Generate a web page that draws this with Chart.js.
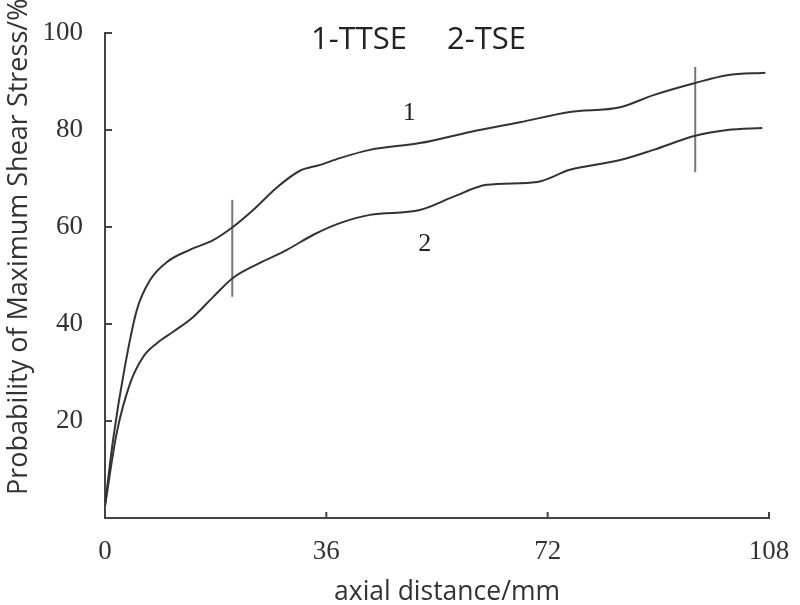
<!DOCTYPE html>
<html lang="en">
<head>
    <meta charset="UTF-8">
    <title>Probability of Maximum Shear Stress</title>
    <script src="https://cdn.jsdelivr.net/npm/chart.js"></script>
    <style>
        body {
            margin: 0;
            background-color: #fff;
        }
        canvas {
            display: block;
        }
    </style>
</head>
<body>
    <canvas id="shearChart" width="800" height="605"></canvas>
    <script>
        // data
        const distance1 = [0, 1.3, 3.2, 5.2, 7.3, 10.1, 13.8, 17.6, 20.8, 24.1, 28, 31.7, 35, 38.2, 43.1, 51.2, 59.4, 67.5, 75.6, 83.8, 89.2, 96, 101.2, 107.4];
        const ttse = [2.5, 16, 31, 43, 49, 52.8, 55.3, 57.3, 60, 63.5, 68.2, 71.6, 72.8, 74.2, 75.9, 77.3, 79.6, 81.6, 83.7, 84.7, 87.2, 89.7, 91.3, 91.8];

        const distance2 = [0, 1.9, 4.1, 6.2, 8.4, 11.1, 14.3, 17.6, 20.8, 25.2, 29.6, 33.9, 38.2, 43.1, 51.2, 56.6, 62.1, 70.3, 75.6, 83.8, 89.2, 96, 101.2, 106.9];
        const tse = [2.5, 17.5, 27.8, 33.2, 36, 38.4, 41.4, 45.6, 49.5, 52.6, 55.3, 58.4, 60.8, 62.5, 63.5, 66.2, 68.7, 69.3, 71.8, 73.8, 75.9, 78.8, 80, 80.4];

        // vertical marker lines
        const markerX = [20.7, 96];
        const markerLow = [45.6, 71.3];
        const markerHigh = [65.6, 93];

        const xTicks = [0, 36, 72, 108];
        const yTicks = [0, 20, 40, 60, 80, 100];

        const xTitle = 'axial distance/mm';
        const yTitle = 'Probability of Maximum Shear Stress/%';

        const lineColor = '#333';
        const axisColor = '#444';

        function toPoints(xs, ys) {
            return xs.map((x, i) => ({ x: x, y: ys[i] }));
        }

        const datasets = [
            { label: '1-TTSE', data: toPoints(distance1, ttse), borderColor: lineColor, borderWidth: 2, cubicInterpolationMode: 'monotone' },
            { label: '2-TSE', data: toPoints(distance2, tse), borderColor: lineColor, borderWidth: 2, cubicInterpolationMode: 'monotone' }
        ];
        markerX.forEach((x, i) => {
            datasets.push({
                label: 'marker' + i,
                data: [{ x: x, y: markerLow[i] }, { x: x, y: markerHigh[i] }],
                borderColor: '#777',
                borderWidth: 2
            });
        });

        // inward tick marks, titles and curve labels
        const decorations = {
            id: 'decorations',
            afterDraw(chart) {
                const c = chart.ctx;
                const xs = chart.scales.x;
                const ys = chart.scales.y;
                const area = chart.chartArea;
                c.save();
                c.strokeStyle = axisColor;
                c.lineWidth = 2;
                c.beginPath();
                xTicks.slice(1).forEach(v => {
                    const px = xs.getPixelForValue(v);
                    c.moveTo(px, area.bottom);
                    c.lineTo(px, area.bottom - 6);
                });
                yTicks.slice(1).forEach(v => {
                    const py = ys.getPixelForValue(v);
                    c.moveTo(area.left, py);
                    c.lineTo(area.left + 7, py);
                });
                c.stroke();

                // legend text
                c.fillStyle = '#222';
                c.textBaseline = 'alphabetic';
                c.textAlign = 'left';
                c.font = '31px "Open Sans"';
                c.fillText(chart.data.datasets[0].label, 311, 49);
                c.fillText(chart.data.datasets[1].label, 447, 49);

                // curve numbers
                c.textBaseline = 'middle';
                c.textAlign = 'center';
                c.font = '26px "Liberation Serif"';
                c.fillText('1', xs.getPixelForValue(49.5), ys.getPixelForValue(83.5));
                c.fillText('2', xs.getPixelForValue(52), ys.getPixelForValue(56.5));

                // axis titles
                c.textBaseline = 'alphabetic';
                c.font = '26.5px "Open Sans"';
                c.fillStyle = '#333';
                c.fillText(xTitle, 447, 600);

                c.font = '27px "Open Sans"';
                c.textAlign = 'left';
                c.translate(27, 495);
                c.rotate(-Math.PI / 2);
                c.fillText(yTitle, 0, 0);
                c.restore();
            }
        };

        const ctx = document.getElementById('shearChart').getContext('2d');
        const shearChart = new Chart(ctx, {
            type: 'line',
            data: { datasets: datasets },
            options: {
                responsive: false,
                animation: false,
                devicePixelRatio: 1,
                layout: { padding: { left: 0, right: 31, top: 33, bottom: 0 } },
                elements: { point: { radius: 0 } },
                plugins: {
                    legend: { display: false },
                    tooltip: { enabled: false }
                },
                scales: {
                    x: {
                        type: 'linear',
                        min: 0,
                        max: 108,
                        afterBuildTicks: scale => { scale.ticks = xTicks.map(v => ({ value: v })); },
                        afterFit: scale => { scale.height = 87; },
                        grid: { display: false },
                        border: { display: true, color: axisColor, width: 2 },
                        ticks: {
                            color: '#333',
                            padding: 10,
                            maxRotation: 0,
                            font: { family: 'Liberation Serif', size: 27 }
                        }
                    },
                    y: {
                        min: 0,
                        max: 100,
                        afterBuildTicks: scale => { scale.ticks = yTicks.map(v => ({ value: v })); },
                        afterFit: scale => { scale.width = 105; },
                        grid: { display: false },
                        border: { display: true, color: axisColor, width: 2 },
                        ticks: {
                            color: '#333',
                            padding: 14,
                            callback: v => (v === 0 ? '' : v),
                            font: { family: 'Liberation Serif', size: 27 }
                        }
                    }
                }
            },
            plugins: [decorations]
        });
    </script>
</body>
</html>
